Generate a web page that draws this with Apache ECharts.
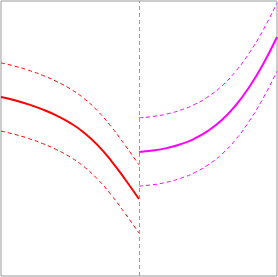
<!DOCTYPE html>
<html>
<head>
<meta charset="utf-8">
<style>html,body{margin:0;padding:0;background:#fff;}#c{width:278px;height:277px;}</style>
<script src="https://cdn.jsdelivr.net/npm/echarts@6/dist/echarts.min.js"></script>
</head>
<body>
<div id="c"></div>
<script>
var xLeft = [0, 0.5, 1, 1.5, 2, 2.5, 3, 3.5, 4, 4.5, 5];
var redMean = [6.51, 6.39, 6.24, 6.06, 5.84, 5.57, 5.22, 4.76, 4.18, 3.51, 2.80];
var redUpper = [7.75, 7.63, 7.48, 7.30, 7.08, 6.81, 6.46, 6.00, 5.42, 4.75, 4.04];
var redLower = [5.27, 5.15, 5.00, 4.82, 4.60, 4.33, 3.98, 3.52, 2.94, 2.27, 1.56];
var xRight = [5, 5.5, 6, 6.5, 7, 7.5, 8, 8.5, 9, 9.5, 10];
var magMean = [4.51, 4.56, 4.65, 4.79, 4.99, 5.28, 5.67, 6.20, 6.88, 7.71, 8.69];
var magUpper = [5.75, 5.80, 5.89, 6.03, 6.23, 6.52, 6.91, 7.44, 8.12, 8.95, 9.93];
var magLower = [3.27, 3.32, 3.41, 3.55, 3.75, 4.04, 4.43, 4.96, 5.64, 6.47, 7.45];
var cutoff = 5;

function pairs(xs, ys) { return xs.map(function (x, i) { return [x, ys[i]]; }); }
function line(xs, ys, color, width, dashed) {
  return {
    type: 'line', data: pairs(xs, ys), smooth: true, showSymbol: false, silent: true,
    lineStyle: { color: color, width: width, type: dashed ? [4, 3] : 'solid' }, z: dashed ? 2 : 3
  };
}
var chart = echarts.init(document.getElementById('c'));
var series = [
  line(xLeft, redUpper, '#ff0000', 1, true),
  line(xLeft, redLower, '#ff0000', 1, true),
  line(xLeft, redMean, '#ff0000', 2, false),
  line(xRight, magUpper, '#ff00ff', 1, true),
  line(xRight, magLower, '#ff00ff', 1, true),
  line(xRight, magMean, '#ff00ff', 2, false)
];
series.push({
  type: 'line', data: [], silent: true,
  markLine: {
    symbol: 'none', silent: true, label: { show: false },
    lineStyle: { color: '#999', width: 1, type: [4, 3] },
    data: [{ xAxis: cutoff }]
  }
});
chart.setOption({
  animation: false,
  grid: { left: 1, right: 1, top: 1, bottom: 1, show: true, borderColor: '#999', borderWidth: 1 },
  xAxis: { type: 'value', min: 0, max: 10, axisLine: { show: false }, axisTick: { show: false }, axisLabel: { show: false }, splitLine: { show: false } },
  yAxis: { type: 'value', min: 0, max: 10, axisLine: { show: false }, axisTick: { show: false }, axisLabel: { show: false }, splitLine: { show: false } },
  series: series
});
</script>
</body>
</html>
